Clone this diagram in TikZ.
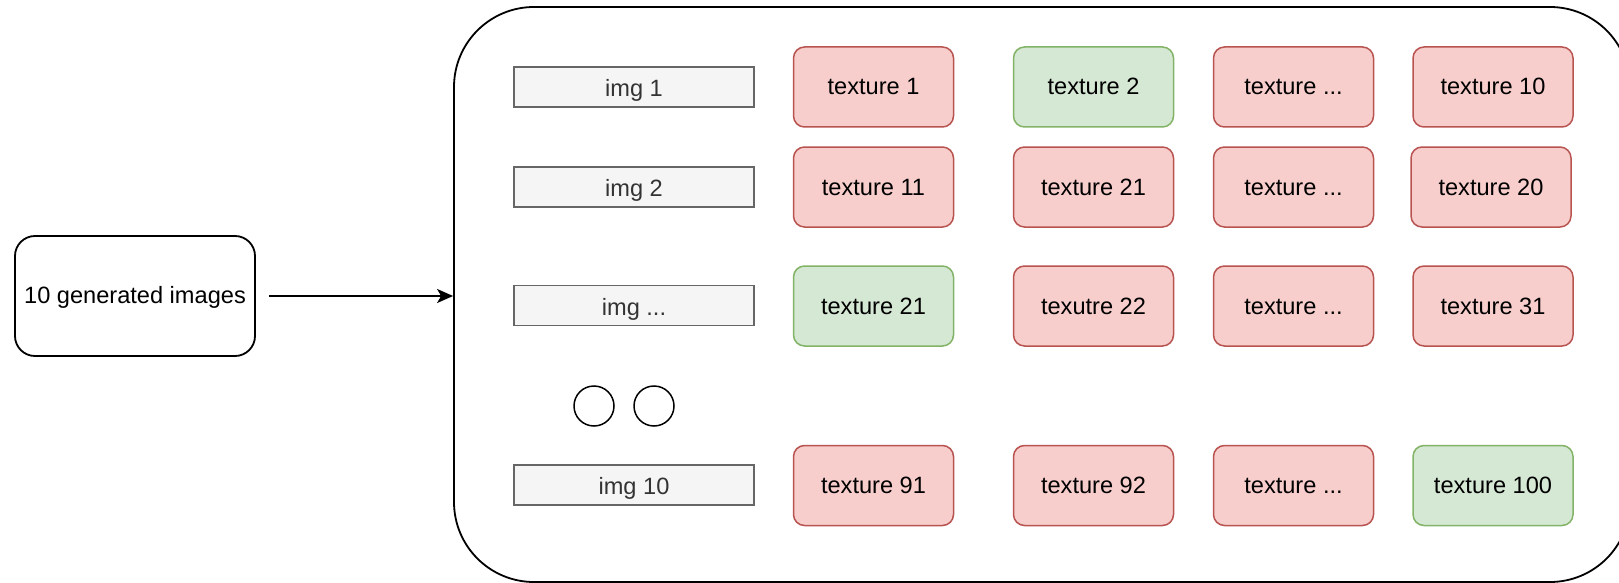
\documentclass[tikz,border=0pt]{standalone}
\usepackage{fontspec}
\setmainfont{Liberation Sans}
\usetikzlibrary{arrows.meta}
\definecolor{redfill}{HTML}{F8CECC}
\definecolor{reddraw}{HTML}{B85450}
\definecolor{greenfill}{HTML}{D5E8D4}
\definecolor{greendraw}{HTML}{82B366}
\definecolor{imgfill}{HTML}{F5F5F5}
\definecolor{imgdraw}{HTML}{666666}
\definecolor{imgtext}{HTML}{333333}
\tikzset{
  lbl/.style={font=\fontsize{23.6}{28}\selectfont},
  tex/.style={lbl, rectangle, rounded corners=11pt, minimum width=160pt, minimum height=80pt, line width=1.5pt, inner sep=0pt, text height=17pt, text depth=1pt},
  redbox/.style={tex, draw=reddraw, fill=redfill},
  greenbox/.style={tex, draw=greendraw, fill=greenfill},
  imgbox/.style={lbl, rectangle, draw=imgdraw, fill=imgfill, text=imgtext, minimum width=240pt, minimum height=40pt, line width=1.5pt, inner sep=0pt, text height=19pt, text depth=0pt},
  dotc/.style={circle, draw=black, line width=1.5pt, minimum size=40pt, inner sep=0pt},
}
\begin{document}
\begin{tikzpicture}[x=1pt,y=-1pt]
\useasboundingbox (0,0) rectangle (1619,583);
\clip (0,0) rectangle (1619,583);
\fill[white] (0,0) rectangle (1619,583);
% left box
\node[lbl, draw=black, line width=1.8pt, rounded corners=20pt, minimum width=240pt, minimum height=120pt, inner sep=0pt, text height=17pt, text depth=2.5pt] (gen) at (135,296) {10 generated images};
% big container
\node[draw=black, line width=1.8pt, rounded corners=80pt, minimum width=1176pt, minimum height=575pt, inner sep=0pt] (big) at (1042,294.5) {};
\draw[line width=1.8pt, -{Stealth[length=16pt,width=14pt,inset=4pt]}, shorten <=13pt] (gen.east) -- (gen.east -| big.west);
% img boxes
\node[imgbox] (img1) at (634,87) {img 1};
\node[imgbox] (img2) at (634,187) {img 2};
\node[imgbox] (imgd) at (634,305.5) {img ...};
\node[imgbox] (img10) at (634,485) {img 10};
% circles
\node[dotc] (c1) at (594,406) {};
\node[dotc] (c2) at (654,406) {};
% row 1
\node[redbox] (t1) at (873.5,87) {texture 1};
\node[greenbox] (t2) at (1093.5,87) {texture 2};
\node[redbox] (t3) at (1293.5,87) {texture ...};
\node[redbox] (t10) at (1493,87) {texture 10};
% row 2
\node[redbox] (t11) at (873.5,187) {texture 11};
\node[redbox] (t21a) at (1093.5,187) {texture 21};
\node[redbox] (t2d) at (1293.5,187) {texture ...};
\node[redbox] (t20) at (1491,187) {texture 20};
% row 3
\node[greenbox] (t21) at (873.5,306) {texture 21};
\node[redbox] (t22) at (1093.5,306) {texutre 22};
\node[redbox] (t3d) at (1293.5,306) {texture ...};
\node[redbox] (t31) at (1493,306) {texture 31};
% row 4
\node[redbox] (t91) at (873.5,485.5) {texture 91};
\node[redbox] (t92) at (1093.5,485.5) {texture 92};
\node[redbox] (t4d) at (1293.5,485.5) {texture ...};
\node[greenbox] (t100) at (1493,485.5) {texture 100};
\end{tikzpicture}
\end{document}
